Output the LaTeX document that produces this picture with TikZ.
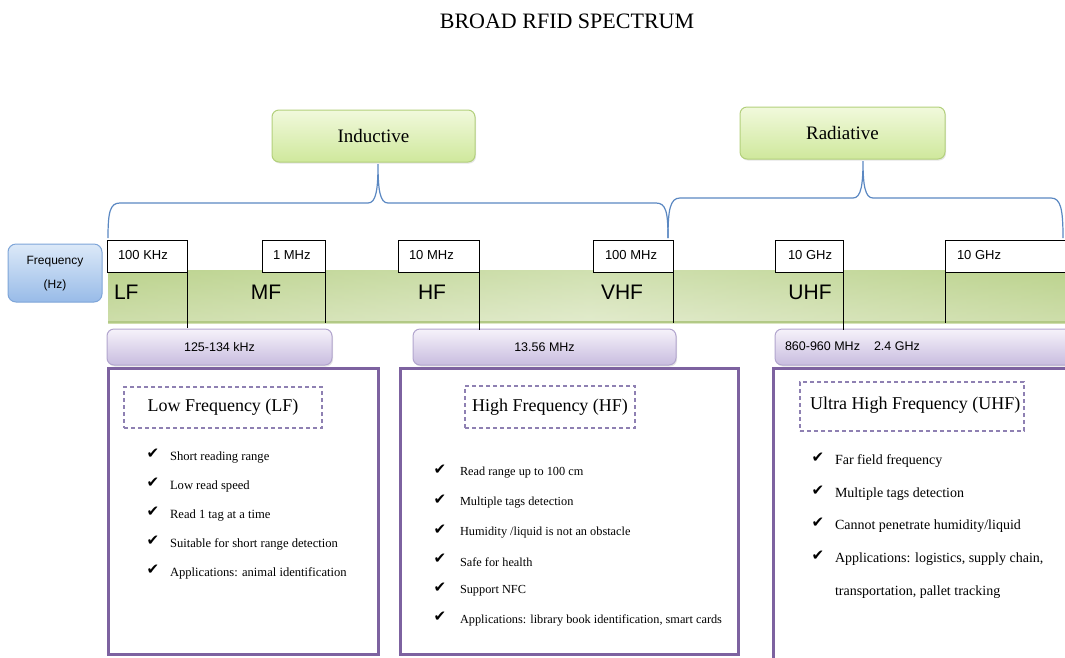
\documentclass[tikz,border=0pt]{standalone}
\usepackage{fontspec}
\setmainfont{Liberation Serif}
\setsansfont{Liberation Sans}
\newfontfamily\chkfont{DejaVu Sans}
\usetikzlibrary{calc,shadows}
\definecolor{gTop}{HTML}{F1F9DC}
\definecolor{gBot}{HTML}{CFE89C}
\definecolor{gLine}{HTML}{B3D07C}
\definecolor{bTop}{HTML}{DCE9F8}
\definecolor{bBot}{HTML}{98BBE8}
\definecolor{bLine}{HTML}{7EA5D8}
\definecolor{bandTop}{HTML}{BCD38E}
\definecolor{bandBot}{HTML}{D6E3B8}
\definecolor{bandEdge}{HTML}{B2C986}
\definecolor{pTop}{HTML}{F6F2FA}
\definecolor{pBot}{HTML}{C8BCDF}
\definecolor{pLine}{HTML}{B2A5CE}
\definecolor{purp}{HTML}{7D62A0}
\definecolor{dashc}{HTML}{8E80B2}
\definecolor{bracec}{HTML}{5B88C2}
\newcommand\bulletitem[6]{%
  \node[chk] (#1c) at (#2,#4-3) {✔};
  \node[btxt, font=\fontsize{#6}{#6}\selectfont] (#1) at (#3,#4) {#5};}
\begin{document}
\begin{tikzpicture}[x=1pt,y=-1pt,
  every node/.style={inner sep=0pt, outer sep=0pt},
  catbox/.style={rectangle, rounded corners=7pt, draw=gLine, line width=1pt,
     top color=gTop, bottom color=gBot, anchor=north west,
     drop shadow={opacity=0.2, shadow xshift=1pt, shadow yshift=-1.5pt}},
  freqbox/.style={rectangle, rounded corners=8pt, draw=bLine, line width=1pt,
     top color=bTop, bottom color=bBot, anchor=north west},
  fbox/.style={rectangle, draw=black, line width=1pt, fill=white, anchor=north west, minimum height=32pt},
  flab/.style={anchor=west, font=\sffamily\fontsize{13}{13}\selectfont},
  bandlab/.style={font=\sffamily\fontsize{21}{21}\selectfont},
  pill/.style={rectangle, rounded corners=7pt, draw=pLine, line width=1pt,
     top color=pTop, bottom color=pBot, anchor=north west, minimum height=36pt,
     drop shadow={opacity=0.2, shadow xshift=1pt, shadow yshift=-1.5pt}},
  pilllab/.style={font=\sffamily\fontsize{12.5}{12.5}\selectfont},
  bigbox/.style={rectangle, draw=purp, line width=3pt, anchor=north west, fill=white},
  dbox/.style={rectangle, draw=dashc, line width=1.5pt, dash pattern=on 4pt off 3pt, anchor=north west},
  dlab/.style={font=\fontsize{18}{18}\selectfont},
  chk/.style={font=\chkfont\fontsize{15}{15}\selectfont},
  btxt/.style={anchor=west},
  brace/.style={draw=bracec, line width=1.2pt},
  vline/.style={draw=black, line width=1pt}
]
\useasboundingbox (0,0) rectangle (1065,657);
\fill[white] (0,0) rectangle (1065,657);
\begin{scope}
\clip (0,0) rectangle (1065,657);

% title
\node (title) at (567,21) {\fontsize{22}{22}\selectfont BROAD RFID SPECTRUM};

% category boxes
\node[catbox, minimum width=203pt, minimum height=52pt] (ind) at (272,110) {};
\node (indt) at (ind.center) {\fontsize{19}{19}\selectfont Inductive};
\node[catbox, minimum width=205pt, minimum height=52pt] (rad) at (740,107) {};
\node (radt) at (rad.center) {\fontsize{19}{19}\selectfont Radiative};

% braces
\coordinate (iL) at (108,238);
\coordinate (iC) at (378,164);
\coordinate (iR) at (668,238);
\coordinate (rC) at (863,161);
\coordinate (rR) at (1063,238);
\draw[brace] (iL) .. controls (108,212) and (110,203) .. (120,203) -- (368,203)
   .. controls (376,203) and (378,190) .. (iC)
   .. controls (378,190) and (380,203) .. (388,203) -- (656,203)
   .. controls (666,203) and (668,212) .. (iR);
\draw[brace] (iR) .. controls (668,210) and (670,198) .. (680,198) -- (853,198)
   .. controls (861,198) and (863,185) .. (rC)
   .. controls (863,185) and (865,198) .. (873,198) -- (1051,198)
   .. controls (1061,198) and (1063,210) .. (rR);

% frequency box
\node[freqbox, minimum width=94pt, minimum height=58pt] (freq) at (8,244) {};
\node[font=\sffamily\fontsize{12}{12}\selectfont] (freqt1) at (55,262) {Frequency};
\node[font=\sffamily\fontsize{12}{12}\selectfont] (freqt2) at (55,285) {(Hz)};

% band
\shade[top color=bandTop, bottom color=bandBot] (108,270) rectangle (1070,323);
\begin{scope}
\clip (108,270) rectangle (1070,323);
\shade[left color=bandTop, right color=bandTop, middle color=white, opacity=0.3] (108,270) rectangle (1070,323);
\end{scope}
\draw[bandEdge, line width=1.5pt] (108,322) -- (1070,322);
\node[rectangle, anchor=north west, minimum width=962pt, minimum height=53pt] (bandn) at (108,270) {};

% purple pills
\node[pill, minimum width=225pt] (p1) at (107,329) {};
\node[pilllab] (p1t) at (p1.center) {125-134 kHz};
\node[pill, minimum width=263pt] (p2) at (413,329) {};
\node[pilllab] (p2t) at (p2.center) {13.56 MHz};
\node[pill, minimum width=300pt] (p3) at (775,329) {};
\node[pilllab, anchor=west] (p3t) at (785,346) {860-960 MHz\hspace{14pt}2.4 GHz};

% frequency label boxes
\node[fbox, minimum width=80pt] (l1) at (107,240) {};
\node[flab] (l1t) at (118,255) {100 KHz};
\node[fbox, minimum width=63pt] (l2) at (262,240) {};
\node[flab] (l2t) at (273,255) {1 MHz};
\node[fbox, minimum width=81pt] (l3) at (398,240) {};
\node[flab] (l3t) at (409,255) {10 MHz};
\node[fbox, minimum width=80pt] (l4) at (593,240) {};
\node[flab] (l4t) at (605,255) {100 MHz};
\node[fbox, minimum width=68pt] (l5) at (775,240) {};
\node[flab] (l5t) at (788,255) {10 GHz};
\node[fbox, minimum width=130pt] (l6) at (945,240) {};
\node[flab] (l6t) at (957,255) {10 GHz};

% vertical lines
\draw[vline] (l1.south east) -- ($(l1.south east |- p1.north)+(0,-1)$);
\draw[vline] (l2.south east) -- (l2.south east |- bandn.south);
\draw[vline] (l3.south east) -- ($(l3.south east |- p2.north)+(0,1)$);
\draw[vline] (l4.south east) -- (l4.south east |- bandn.south);
\draw[vline] (l5.south east) -- ($(l5.south east |- p3.north)+(0,1)$);
\draw[vline] (l6.south west) -- (l6.south west |- bandn.south);

% band labels
\node[bandlab, anchor=west] (lf) at (114,292) {LF};
\node[bandlab] (mf) at (266,292) {MF};
\node[bandlab] (hf) at (432,292) {HF};
\node[bandlab] (vhf) at (622,292) {VHF};
\node[bandlab] (uhf) at (810,292) {UHF};

% big boxes
\node[bigbox, minimum width=270pt, minimum height=286pt] (bLF) at (108,368) {};
\node[bigbox, minimum width=338pt, minimum height=286pt] (bHF) at (400,368) {};
\node[bigbox, minimum width=320pt, minimum height=300pt] (bUHF) at (773,368) {};

% dashed title boxes
\node[dbox, minimum width=198pt, minimum height=41pt] (dLF) at (124,387) {};
\node[dlab] (dLFt) at (dLF.center) {Low Frequency (LF)};
\node[dbox, minimum width=170pt, minimum height=42pt] (dHF) at (465,386) {};
\node[dlab] (dHFt) at (dHF.center) {High Frequency (HF)};
\node[dbox, minimum width=224pt, minimum height=49pt] (dUHF) at (800,382) {};
\node[dlab, anchor=west] (dUHFt) at (810,405) {Ultra High Frequency (UHF)};

% bullets
\bulletitem{a1}{153}{170}{457}{Short reading range}{12.6}
\bulletitem{a2}{153}{170}{486}{Low read speed}{12.6}
\bulletitem{a3}{153}{170}{515}{Read 1 tag at a time}{12.6}
\bulletitem{a4}{153}{170}{544}{Suitable for short range detection}{12.6}
\bulletitem{a5}{153}{170}{573}{Applications: animal identification}{12.6}

\bulletitem{b1}{440}{460}{473}{Read range up to 100 cm}{12.3}
\bulletitem{b2}{440}{460}{503}{Multiple tags detection}{12.3}
\bulletitem{b3}{440}{460}{533}{Humidity /liquid is not an obstacle}{12.3}
\bulletitem{b4}{440}{460}{562}{Safe for health}{12.3}
\bulletitem{b5}{440}{460}{591}{Support NFC}{12.3}
\bulletitem{b6}{440}{460}{620}{Applications: library book identification, smart cards}{12.3}

\bulletitem{c1}{818}{835}{461}{Far field frequency}{14}
\bulletitem{c2}{818}{835}{494}{Multiple tags detection}{14}
\bulletitem{c3}{818}{835}{526}{Cannot penetrate humidity/liquid}{14}
\bulletitem{c4}{818}{835}{559}{Applications: logistics, supply chain,}{14}
\node[btxt, font=\fontsize{14}{14}\selectfont] (c5) at (835,592) {transportation, pallet tracking};
\end{scope}
\end{tikzpicture}
\end{document}
